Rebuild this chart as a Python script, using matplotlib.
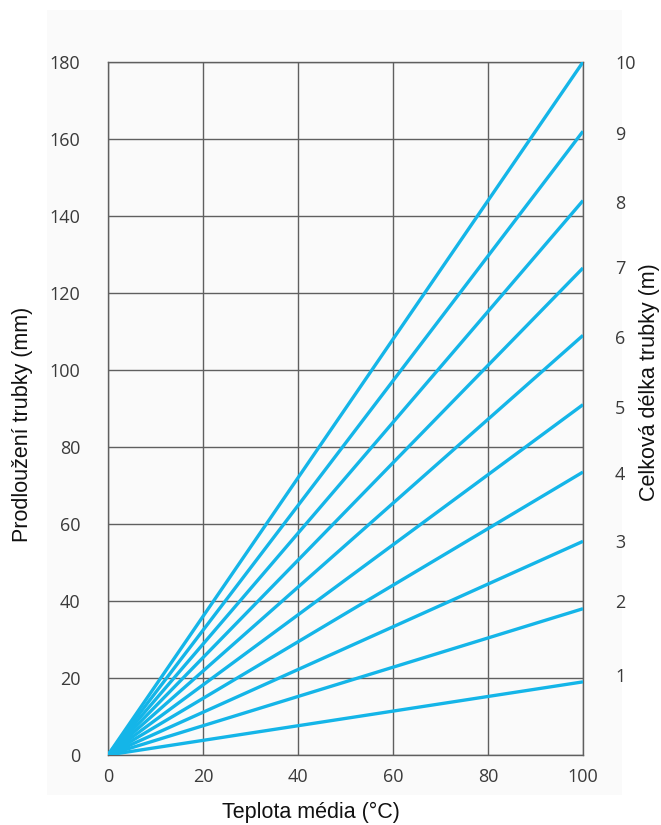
import numpy as np
import matplotlib.pyplot as plt
from matplotlib.patches import Rectangle

# temperatura media (x) a prodlouzeni na konci (y) pro kazdou delku trubky
temps = [0, 100]
lengths = [1, 2, 3, 4, 5, 6, 7, 8, 9, 10]
end_values = [19, 38, 55.5, 73.5, 91, 109, 126.5, 144, 162, 180]
# kde stoji popisky delek na prave strane
length_label_pos = [20.8, 40.3, 55.8, 73.5, 90.9, 109, 127.3, 144.4, 162.3, 180.8]

x_ticks = [0, 20, 40, 60, 80, 100]
y_ticks = [0, 20, 40, 60, 80, 100, 120, 140, 160, 180]

line_color = '#14b5e8'
grid_color = '#5f5f5f'

fig = plt.figure(figsize=(6.61, 8.25), dpi=100)
fig.patches.append(Rectangle((47 / 661, 1 - 795 / 825), 575 / 661, 785 / 825,
                             transform=fig.transFigure, facecolor='#fafafa',
                             edgecolor='none', zorder=-10))
ax = fig.add_axes([108 / 661, 1 - 755 / 825, 475 / 661, 693 / 825])
ax.set_facecolor('#fafafa')

for L, yend in zip(lengths, end_values):
    ax.plot(temps, [0, yend], color=line_color, lw=2.4, solid_capstyle='butt', zorder=3)

ax.set_xlim(0, 100)
ax.set_ylim(0, 180)
ax.set_xticks(x_ticks)
ax.set_yticks(y_ticks)
ax.grid(True, color=grid_color, lw=1.0)
ax.set_axisbelow(True)
for s in ax.spines.values():
    s.set_color(grid_color)
    s.set_linewidth(1.0)

tick_font = dict(family='Open Sans', size=13, color='#3a3a3a')
ax.tick_params(length=0)
ax.tick_params(axis='x', pad=9)
ax.tick_params(axis='y', pad=20)
for lab in ax.get_xticklabels() + ax.get_yticklabels():
    lab.set_fontfamily('Open Sans')
    lab.set_fontsize(13)
    lab.set_color('#3a3a3a')

ax2 = ax.twinx()
ax2.set_ylim(0, 180)
ax2.set_yticks(length_label_pos)
ax2.set_yticklabels([str(L) for L in lengths], **tick_font)
ax2.tick_params(length=0, pad=23)
for s in ax2.spines.values():
    s.set_visible(False)

lab_font = dict(family='Liberation Sans', size=15.5, color='#111111')
fig.text(311 / 661, 1 - 812 / 825, 'Teplota média (°C)', ha='center', va='center', **lab_font)
fig.text(23 / 661, 1 - 424 / 825, 'Prodloužení trubky (mm)', ha='center', va='center',
         rotation=90, **lab_font)
fig.text(650 / 661, 1 - 382 / 825, 'Celková délka trubky (m)', ha='center', va='center',
         rotation=90, **lab_font)

fig.savefig('out.png', dpi=100, facecolor='white')
